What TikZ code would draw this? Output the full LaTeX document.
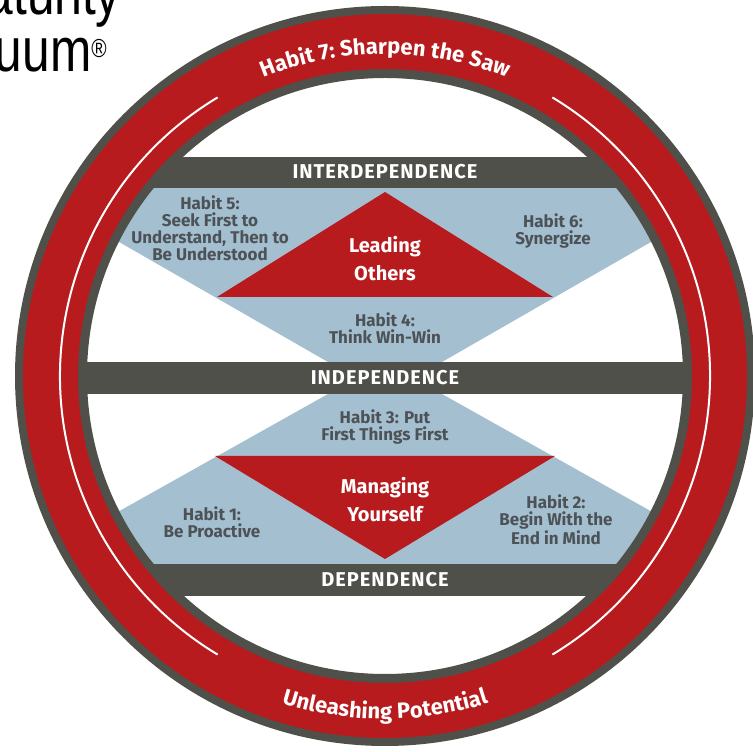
\documentclass[tikz,border=0pt]{standalone}
\usepackage{fontspec}
\setmainfont{Fira Sans}
\newfontfamily\titlefont[FakeStretch=0.8]{Liberation Sans}
\newfontfamily\barfont[LetterSpace=5]{Fira Sans}
\usepackage{tikz}
\usetikzlibrary{positioning,decorations.text}
\definecolor{ringred}{RGB}{183,27,30}
\definecolor{bargray}{RGB}{80,80,74}
\definecolor{habitblue}{RGB}{164,191,208}
\definecolor{habittext}{RGB}{76,82,86}
\newcommand\ringfont{\bfseries\fontsize{22}{22}\selectfont}

\begin{document}
\begin{tikzpicture}[x=1pt,y=1pt,
    barlabel/.style={text=white,font=\barfont\bfseries\fontsize{20}{20}\selectfont,inner sep=0pt},
    habit/.style={text=habittext,font=\bfseries\fontsize{17}{17}\selectfont,align=center,inner sep=0pt},
    core/.style={text=white,font=\bfseries\fontsize{20}{28}\selectfont,align=center,inner sep=0pt}]
    \useasboundingbox (0,0) rectangle (753,752);
    \coordinate (C) at (385,376);
    \begin{scope}
        \clip (C) circle (300);
        \fill[habitblue] (25,564) -- (328,390) -- (442,390) -- (745,564) -- cycle;
        \fill[habitblue] (25,188) -- (328,358) -- (442,358) -- (745,188) -- cycle;
        \fill[ringred] (217,455) -- (385,560) -- (553,455) -- cycle;
        \fill[ringred] (215,296) -- (385,193) -- (555,296) -- cycle;
        \fill[bargray] (0,564) rectangle (753,595);
        \fill[bargray] (0,358) rectangle (753,390);
        \fill[bargray] (0,156) rectangle (753,188);
    \end{scope}
    \fill[bargray,even odd rule] (C) circle (370) (C) circle (298);
    \fill[ringred,even odd rule] (C) circle (362) (C) circle (307);
    \draw[white,line width=2pt] (C) ++(121:325) arc[start angle=121,end angle=239,radius=325];
    \draw[white,line width=2pt] (C) ++(-59:325) arc[start angle=-59,end angle=59,radius=325];
    \path[decorate,decoration={text along path,text align=center,
        text={|\color{white}\ringfont|Habit 7: Sharpen the Saw}}]
        (C) ++(130:322) arc[start angle=130,end angle=50,radius=322];
    \path[decorate,decoration={text along path,text align=center,
        text={|\color{white}\ringfont|Unleashing Potential}}]
        (C) ++(232:343) arc[start angle=232,end angle=308,radius=343];

    \node[barlabel] (inter) at (385,580) {INTERDEPENDENCE};
    \node[barlabel] (indep) at (385,374) {INDEPENDENCE};
    \node[barlabel] (dep) at (385,172) {DEPENDENCE};
    \node[core] (leading) at (385,493) {Leading\\Others};
    \node[core] (managing) at (385,252) {Managing\\Yourself};
    \node[habit] (h5) at (210,524) {Habit 5:\\Seek First to\\Understand, Then to\\Be Understood};
    \node[habit] (h6) at (553,521) {Habit 6:\\Synergize};
    \node[habit] (h4) at (385,424) {Habit 4:\\Think Win-Win};
    \node[habit] (h3) at (385,325) {Habit 3: Put\\First Things First};
    \node[habit] (h1) at (212,230) {Habit 1:\\Be Proactive};
    \node[habit] (h2) at (556,232) {Habit 2:\\Begin With the\\End in Mind};

    \node[anchor=base east,inner sep=0pt,font=\titlefont\fontsize{62}{62}\selectfont] (title1) at (121,737) {aturity};
    \node[anchor=base east,inner sep=0pt,font=\titlefont\fontsize{62}{62}\selectfont] (title2) at (107,680) {uum{\fontsize{26}{26}\selectfont\raisebox{14pt}{®}}};
\end{tikzpicture}
\end{document}
